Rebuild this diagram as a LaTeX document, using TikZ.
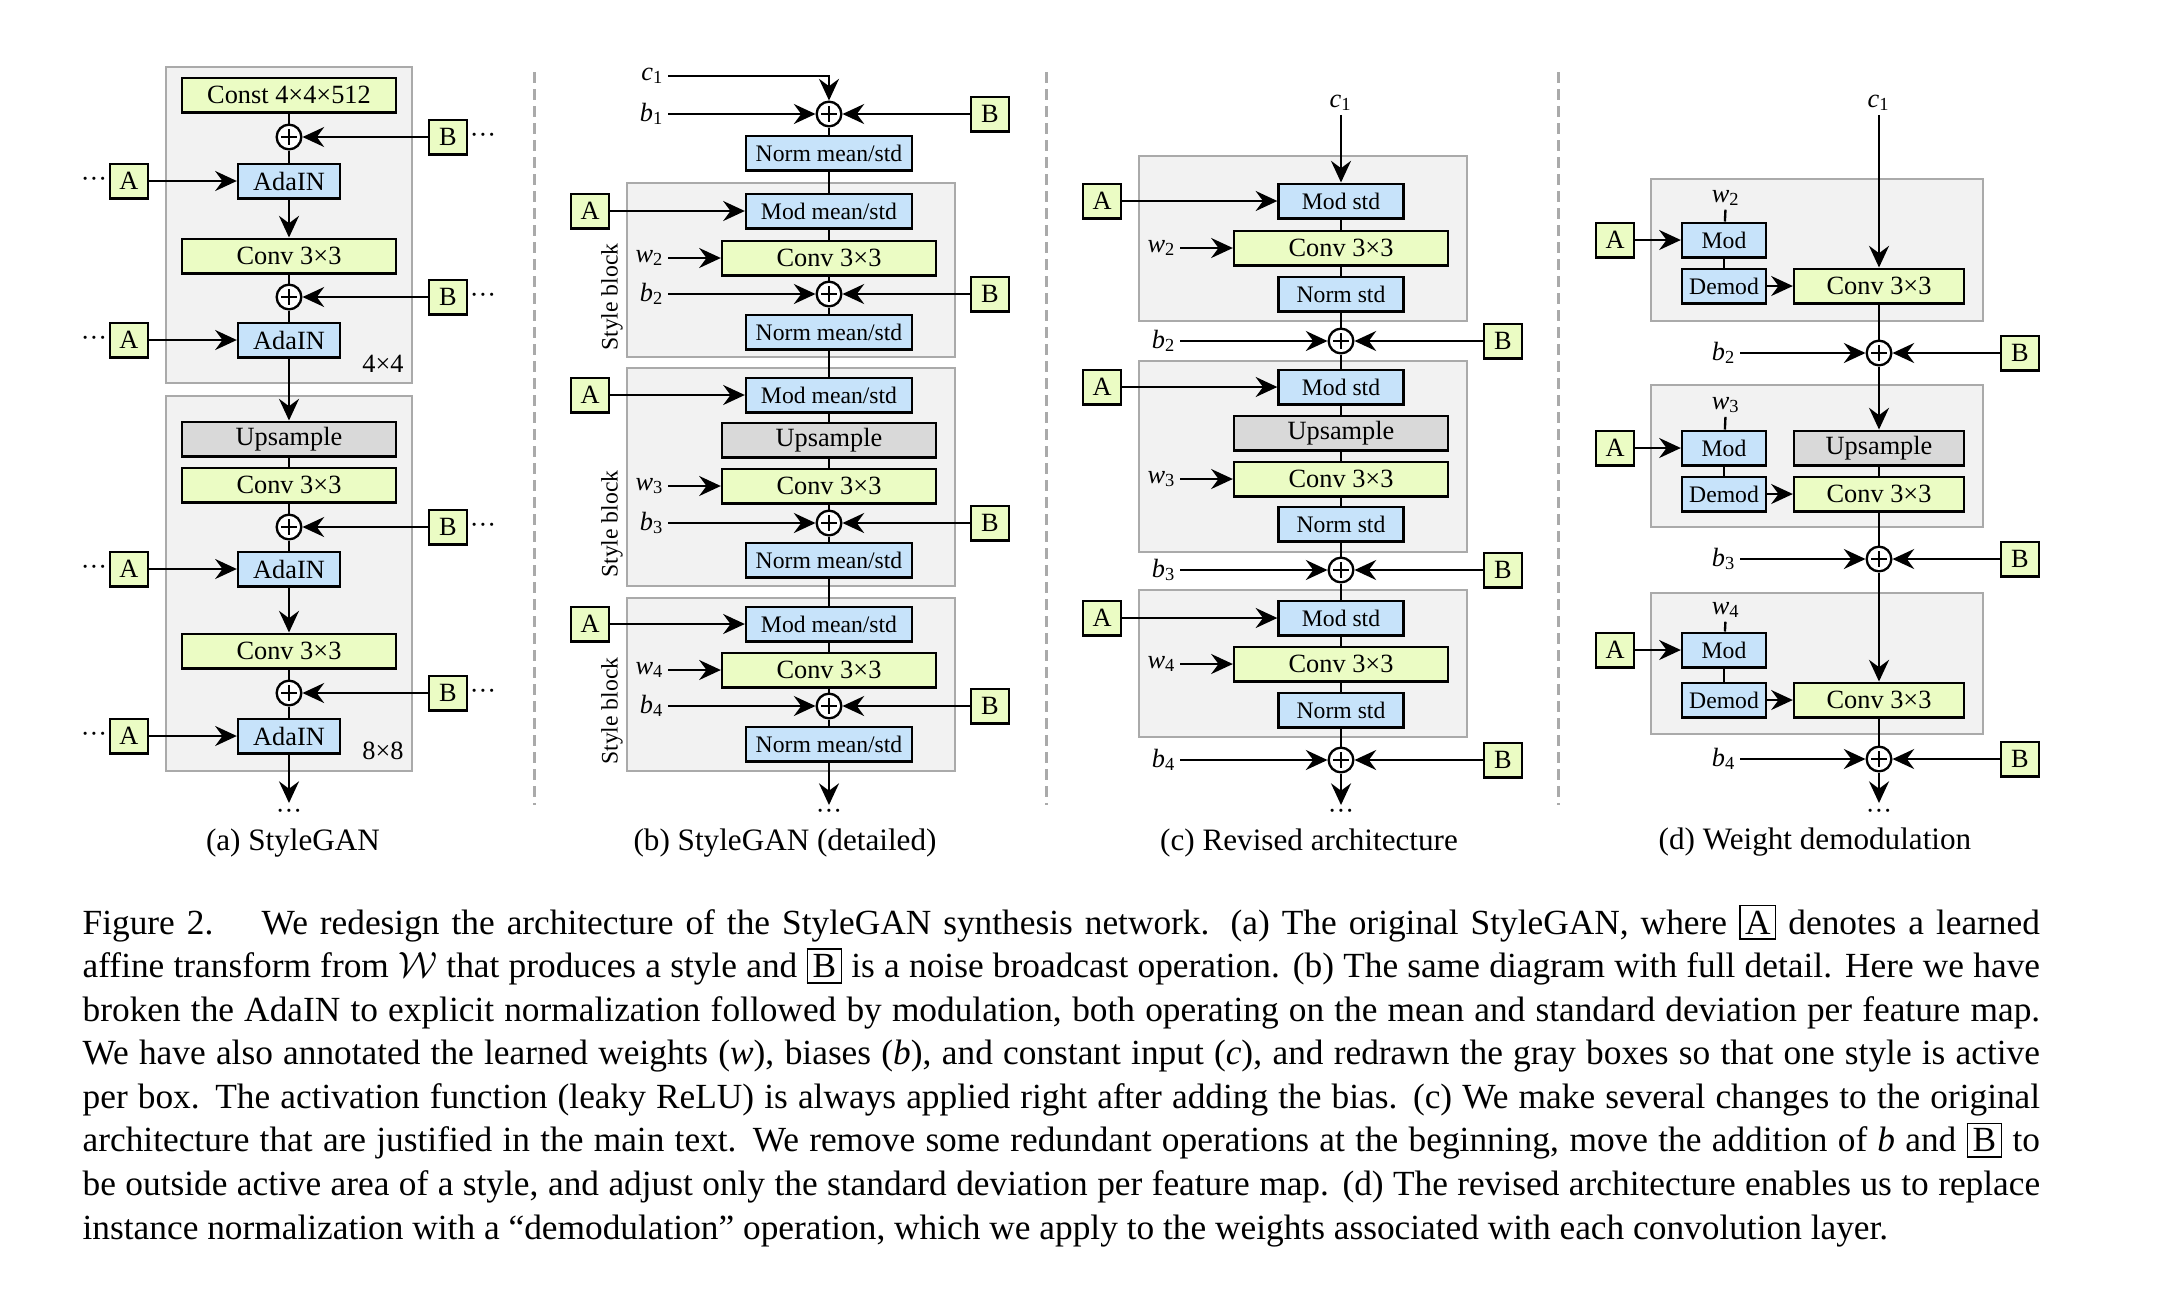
\documentclass[tikz,border=0pt]{standalone}
\usepackage{fontspec}
\setmainfont{Liberation Serif}
\usetikzlibrary{arrows.meta}

\definecolor{convgreen}{RGB}{235,252,196}
\definecolor{opblue}{RGB}{199,227,250}
\definecolor{upgray}{RGB}{217,217,217}
\definecolor{stagefill}{RGB}{242,242,242}
\definecolor{stageline}{RGB}{170,170,170}

\newcommand{\ivar}[2]{\textit{#1}\textsubscript{#2}}
\newcommand{\bigtxt}{\fontsize{7.9}{9.5}\selectfont}
\newcommand{\smalltxt}{\fontsize{7.1}{8.5}\selectfont}
\newcommand{\subcaptxt}{\fontsize{9.35}{11}\selectfont}
\newcommand{\captxt}{\fontsize{10.6}{13.07}\selectfont}
\setlength{\fboxsep}{1.3pt}
\setlength{\fboxrule}{0.5pt}

\begin{document}
\begin{tikzpicture}[
    x=0.3pt, y=-0.3pt,
    blk/.style={draw, line width=0.7pt, inner sep=0pt, minimum height=10.4pt, font=\bigtxt},
    conv/.style={blk, fill=convgreen, minimum width=#1},
    conv/.default=64.2pt,
    upsmp/.style={blk, fill=upgray, minimum width=#1},
    upsmp/.default=64.2pt,
    op/.style={blk, fill=opblue, minimum width=#1, font=\smalltxt},
    adain/.style={blk, fill=opblue, minimum width=30.6pt},
    ab/.style={blk, fill=convgreen, minimum width=11.4pt},
    addnode/.style={circle, draw, fill=white, line width=0.7pt, minimum size=7.4pt, inner sep=0pt,
        path picture={\draw[line width=0.45pt]
            ([xshift=-2.3pt]path picture bounding box.center) -- ([xshift=2.3pt]path picture bounding box.center)
            ([yshift=-2.3pt]path picture bounding box.center) -- ([yshift=2.3pt]path picture bounding box.center);}},
    stage/.style={draw=stageline, fill=stagefill, line width=0.8pt},
    divider/.style={draw=stageline, line width=0.9pt, dash pattern=on 3.3pt off 1.8pt},
    lbl/.style={inner sep=1pt, font=\bigtxt},
    ellip/.style={inner sep=0pt, font=\bigtxt, text height=2.6pt, text depth=0pt},
    sty/.style={rotate=90, inner sep=0pt, font=\smalltxt},
    subcap/.style={inner sep=0pt, font=\subcaptxt},
    capline/.style={anchor=base west, inner sep=0pt, font=\captxt},
    line/.style={line width=0.7pt},
    arr/.style={line width=0.7pt, -{Stealth[length=6.5pt, width=6pt, inset=2.2pt]}}
]
\useasboundingbox (0,0) rectangle (2164,1290);

% Panel dividers
\draw[divider] (534,72) -- (534,805);
\draw[divider] (1046,72) -- (1046,805);
\draw[divider] (1558,72) -- (1558,805);

% (a) StyleGAN
\draw[stage] (166,67) rectangle (412,383);
\draw[stage] (166,396) rectangle (412,771);

\node[conv] (aConst) at (289,95) {Const 4×4×512};
\node[addnode] (aP1) at (289,137) {};
\node[ab] (aB1) at (448,137) {B};
\node[ellip] (aBd1) at (483,139) {···};
\node[ab] (aA1) at (129,181) {A};
\node[ellip] (aAd1) at (94,183) {···};
\node[adain] (aAda1) at (289,181) {AdaIN};
\node[conv] (aConv1) at (289,256) {Conv 3×3};
\node[addnode] (aP2) at (289,297) {};
\node[ab] (aB2) at (448,297) {B};
\node[ellip] (aBd2) at (483,299) {···};
\node[ab] (aA2) at (129,340) {A};
\node[ellip] (aAd2) at (94,342) {···};
\node[adain] (aAda2) at (289,340) {AdaIN};
\node[lbl] (aRes1) at (383,364) {4×4};

\node[upsmp] (aUp) at (289,439) {Upsample};
\node[conv] (aConv2) at (289,485) {Conv 3×3};
\node[addnode] (aP3) at (289,527) {};
\node[ab] (aB3) at (448,527) {B};
\node[ellip] (aBd3) at (483,529) {···};
\node[ab] (aA3) at (129,569) {A};
\node[ellip] (aAd3) at (94,571) {···};
\node[adain] (aAda3) at (289,569) {AdaIN};
\node[conv] (aConv3) at (289,651) {Conv 3×3};
\node[addnode] (aP4) at (289,693) {};
\node[ab] (aB4) at (448,693) {B};
\node[ellip] (aBd4) at (483,695) {···};
\node[ab] (aA4) at (129,736) {A};
\node[ellip] (aAd4) at (94,738) {···};
\node[adain] (aAda4) at (289,736) {AdaIN};
\node[lbl] (aRes2) at (383,751) {8×8};
\coordinate (aEnd) at (289,803);
\node[ellip] (aDots) at (289,815) {···};
\node[subcap] (aCap) at (293,843) {(a) StyleGAN};

\draw[line] (aConst) -- (aP1);
\draw[arr] (aB1) -- (aP1);
\draw[line] (aP1) -- (aAda1);
\draw[arr] (aA1) -- (aAda1);
\draw[arr] (aAda1) -- (aConv1);
\draw[line] (aConv1) -- (aP2);
\draw[arr] (aB2) -- (aP2);
\draw[line] (aP2) -- (aAda2);
\draw[arr] (aA2) -- (aAda2);
\draw[arr] (aAda2) -- (aUp);
\draw[line] (aUp) -- (aConv2);
\draw[line] (aConv2) -- (aP3);
\draw[arr] (aB3) -- (aP3);
\draw[line] (aP3) -- (aAda3);
\draw[arr] (aA3) -- (aAda3);
\draw[arr] (aAda3) -- (aConv3);
\draw[line] (aConv3) -- (aP4);
\draw[arr] (aB4) -- (aP4);
\draw[line] (aP4) -- (aAda4);
\draw[arr] (aA4) -- (aAda4);
\draw[arr] (aAda4) -- (aEnd);

% (b) StyleGAN (detailed)
\draw[stage] (627,183) rectangle (955,357);
\draw[stage] (627,368) rectangle (955,586);
\draw[stage] (627,598) rectangle (955,771);

\node[lbl, anchor=east] (bC1) at (668,76) {\ivar{c}{1}};
\node[addnode] (bP1) at (829,114) {};
\node[lbl, anchor=east] (bBias1) at (668,114) {\ivar{b}{1}};
\node[ab] (bB1) at (990,114) {B};
\node[op=49.8pt] (bNorm1) at (829,153) {Norm mean/std};

\node[ab] (bA2) at (590,211) {A};
\node[op=49.8pt] (bMod2) at (829,211) {Mod mean/std};
\node[conv] (bConv2) at (829,258) {Conv 3×3};
\node[lbl, anchor=east] (bW2) at (668,258) {\ivar{w}{2}};
\node[addnode] (bP2) at (829,294) {};
\node[lbl, anchor=east] (bBias2) at (668,294) {\ivar{b}{2}};
\node[ab] (bB2) at (990,294) {B};
\node[op=49.8pt] (bNorm2) at (829,332) {Norm mean/std};
\node[sty] (bSty2) at (612,297) {Style block};

\node[ab] (bA3) at (590,395) {A};
\node[op=49.8pt] (bMod3) at (829,395) {Mod mean/std};
\node[upsmp] (bUp) at (829,440) {Upsample};
\node[conv] (bConv3) at (829,486) {Conv 3×3};
\node[lbl, anchor=east] (bW3) at (668,486) {\ivar{w}{3}};
\node[addnode] (bP3) at (829,523) {};
\node[lbl, anchor=east] (bBias3) at (668,523) {\ivar{b}{3}};
\node[ab] (bB3) at (990,523) {B};
\node[op=49.8pt] (bNorm3) at (829,560) {Norm mean/std};
\node[sty] (bSty3) at (612,524) {Style block};

\node[ab] (bA4) at (590,624) {A};
\node[op=49.8pt] (bMod4) at (829,624) {Mod mean/std};
\node[conv] (bConv4) at (829,670) {Conv 3×3};
\node[lbl, anchor=east] (bW4) at (668,670) {\ivar{w}{4}};
\node[addnode] (bP4) at (829,706) {};
\node[lbl, anchor=east] (bBias4) at (668,706) {\ivar{b}{4}};
\node[ab] (bB4) at (990,706) {B};
\node[op=49.8pt] (bNorm4) at (829,744) {Norm mean/std};
\node[sty] (bSty4) at (612,711) {Style block};
\coordinate (bEnd) at (829,805);
\node[ellip] (bDots) at (829,815) {···};
\node[subcap] (bCap) at (785,843) {(b) StyleGAN (detailed)};

\draw[arr] (bC1.east) -| (bP1);
\draw[arr] (bBias1) -- (bP1);
\draw[arr] (bB1) -- (bP1);
\draw[line] (bP1) -- (bNorm1);
\draw[line] (bNorm1) -- (bMod2);
\draw[arr] (bA2) -- (bMod2);
\draw[line] (bMod2) -- (bConv2);
\draw[arr] (bW2) -- (bConv2);
\draw[line] (bConv2) -- (bP2);
\draw[arr] (bBias2) -- (bP2);
\draw[arr] (bB2) -- (bP2);
\draw[line] (bP2) -- (bNorm2);
\draw[line] (bNorm2) -- (bMod3);
\draw[arr] (bA3) -- (bMod3);
\draw[line] (bMod3) -- (bUp);
\draw[line] (bUp) -- (bConv3);
\draw[arr] (bW3) -- (bConv3);
\draw[line] (bConv3) -- (bP3);
\draw[arr] (bBias3) -- (bP3);
\draw[arr] (bB3) -- (bP3);
\draw[line] (bP3) -- (bNorm3);
\draw[line] (bNorm3) -- (bMod4);
\draw[arr] (bA4) -- (bMod4);
\draw[line] (bMod4) -- (bConv4);
\draw[arr] (bW4) -- (bConv4);
\draw[line] (bConv4) -- (bP4);
\draw[arr] (bBias4) -- (bP4);
\draw[arr] (bB4) -- (bP4);
\draw[line] (bP4) -- (bNorm4);
\draw[arr] (bNorm4) -- (bEnd);

% (c) Revised architecture
\draw[stage] (1139,156) rectangle (1467,321);
\draw[stage] (1139,361) rectangle (1467,552);
\draw[stage] (1139,590) rectangle (1467,737);

\node[lbl] (cC1) at (1341,103) {\ivar{c}{1}};
\node[ab] (cA1) at (1102,201) {A};
\node[op=37.5pt] (cMod1) at (1341,201) {Mod std};
\node[conv] (cConv1) at (1341,248) {Conv 3×3};
\node[lbl, anchor=east] (cW2) at (1180,248) {\ivar{w}{2}};
\node[op=37.5pt] (cNorm1) at (1341,294) {Norm std};
\node[addnode] (cP1) at (1341,341) {};
\node[lbl, anchor=east] (cBias2) at (1180,341) {\ivar{b}{2}};
\node[ab] (cB1) at (1503,341) {B};

\node[ab] (cA2) at (1102,387) {A};
\node[op=37.5pt] (cMod2) at (1341,387) {Mod std};
\node[upsmp] (cUp) at (1341,433) {Upsample};
\node[conv] (cConv2) at (1341,479) {Conv 3×3};
\node[lbl, anchor=east] (cW3) at (1180,479) {\ivar{w}{3}};
\node[op=37.5pt] (cNorm2) at (1341,524) {Norm std};
\node[addnode] (cP2) at (1341,570) {};
\node[lbl, anchor=east] (cBias3) at (1180,570) {\ivar{b}{3}};
\node[ab] (cB2) at (1503,570) {B};

\node[ab] (cA3) at (1102,618) {A};
\node[op=37.5pt] (cMod3) at (1341,618) {Mod std};
\node[conv] (cConv3) at (1341,664) {Conv 3×3};
\node[lbl, anchor=east] (cW4) at (1180,664) {\ivar{w}{4}};
\node[op=37.5pt] (cNorm3) at (1341,710) {Norm std};
\node[addnode] (cP3) at (1341,760) {};
\node[lbl, anchor=east] (cBias4) at (1180,760) {\ivar{b}{4}};
\node[ab] (cB3) at (1503,760) {B};
\coordinate (cEnd) at (1341,805);
\node[ellip] (cDots) at (1341,815) {···};
\node[subcap] (cCap) at (1309,843) {(c) Revised architecture};

\draw[arr] (cC1) -- (cMod1);
\draw[arr] (cA1) -- (cMod1);
\draw[line] (cMod1) -- (cConv1);
\draw[arr] (cW2) -- (cConv1);
\draw[line] (cConv1) -- (cNorm1);
\draw[line] (cNorm1) -- (cP1);
\draw[arr] (cBias2) -- (cP1);
\draw[arr] (cB1) -- (cP1);
\draw[line] (cP1) -- (cMod2);
\draw[arr] (cA2) -- (cMod2);
\draw[line] (cMod2) -- (cUp);
\draw[line] (cUp) -- (cConv2);
\draw[arr] (cW3) -- (cConv2);
\draw[line] (cConv2) -- (cNorm2);
\draw[line] (cNorm2) -- (cP2);
\draw[arr] (cBias3) -- (cP2);
\draw[arr] (cB2) -- (cP2);
\draw[line] (cP2) -- (cMod3);
\draw[arr] (cA3) -- (cMod3);
\draw[line] (cMod3) -- (cConv3);
\draw[arr] (cW4) -- (cConv3);
\draw[line] (cConv3) -- (cNorm3);
\draw[line] (cNorm3) -- (cP3);
\draw[arr] (cBias4) -- (cP3);
\draw[arr] (cB3) -- (cP3);
\draw[arr] (cP3) -- (cEnd);

% (d) Weight demodulation
\draw[stage] (1651,179) rectangle (1983,321);
\draw[stage] (1651,385) rectangle (1983,527);
\draw[stage] (1651,593) rectangle (1983,734);

\node[lbl] (dC1) at (1879,103) {\ivar{c}{1}};
\node[lbl] (dW2) at (1726,198) {\ivar{w}{2}};
\node[ab] (dA1) at (1615,240) {A};
\node[op=25.2pt] (dMod1) at (1724,240) {Mod};
\node[op=25.2pt] (dDem1) at (1724,286) {Demod};
\node[conv=51pt] (dConv1) at (1879,286) {Conv 3×3};
\node[addnode] (dP1) at (1879,353) {};
\node[lbl, anchor=east] (dBias2) at (1740,353) {\ivar{b}{2}};
\node[ab] (dB1) at (2020,353) {B};

\node[lbl] (dW3) at (1726,405) {\ivar{w}{3}};
\node[ab] (dA2) at (1615,448) {A};
\node[op=25.2pt] (dMod2) at (1724,448) {Mod};
\node[upsmp=51pt] (dUp) at (1879,448) {Upsample};
\node[op=25.2pt] (dDem2) at (1724,494) {Demod};
\node[conv=51pt] (dConv2) at (1879,494) {Conv 3×3};
\node[addnode] (dP2) at (1879,559) {};
\node[lbl, anchor=east] (dBias3) at (1740,559) {\ivar{b}{3}};
\node[ab] (dB2) at (2020,559) {B};

\node[lbl] (dW4) at (1726,610) {\ivar{w}{4}};
\node[ab] (dA3) at (1615,650) {A};
\node[op=25.2pt] (dMod3) at (1724,650) {Mod};
\node[op=25.2pt] (dDem3) at (1724,700) {Demod};
\node[conv=51pt] (dConv3) at (1879,700) {Conv 3×3};
\node[addnode] (dP3) at (1879,759) {};
\node[lbl, anchor=east] (dBias4) at (1740,759) {\ivar{b}{4}};
\node[ab] (dB3) at (2020,759) {B};
\coordinate (dEnd) at (1879,803);
\node[ellip] (dDots) at (1879,815) {···};
\node[subcap] (dCap) at (1815,842) {(d) Weight demodulation};

\draw[arr] (dC1) -- (dConv1);
\draw[line] (dW2) -- (dMod1);
\draw[arr] (dA1) -- (dMod1);
\draw[line] (dMod1) -- (dDem1);
\draw[arr] (dDem1) -- (dConv1);
\draw[line] (dConv1) -- (dP1);
\draw[arr] (dBias2) -- (dP1);
\draw[arr] (dB1) -- (dP1);
\draw[arr] (dP1) -- (dUp);
\draw[line] (dW3) -- (dMod2);
\draw[arr] (dA2) -- (dMod2);
\draw[line] (dMod2) -- (dDem2);
\draw[arr] (dDem2) -- (dConv2);
\draw[line] (dUp) -- (dConv2);
\draw[line] (dConv2) -- (dP2);
\draw[arr] (dBias3) -- (dP2);
\draw[arr] (dB2) -- (dP2);
\draw[arr] (dP2) -- (dConv3);
\draw[line] (dW4) -- (dMod3);
\draw[arr] (dA3) -- (dMod3);
\draw[line] (dMod3) -- (dDem3);
\draw[arr] (dDem3) -- (dConv3);
\draw[line] (dConv3) -- (dP3);
\draw[arr] (dBias4) -- (dP3);
\draw[arr] (dB3) -- (dP3);
\draw[arr] (dP3) -- (dEnd);

% Figure caption
\node[capline] (cap1) at (82,934) {\makebox[587.2pt][s]{Figure 2.\hspace{14.5pt}We redesign the architecture of the StyleGAN synthesis network. (a) The original StyleGAN, where \fbox{A} denotes a learned}};
\node[capline] (cap2) at (82,977.6) {\makebox[587.2pt][s]{affine transform from $\mathcal{W}$ that produces a style and \fbox{B} is a noise broadcast operation. (b) The same diagram with full detail. Here we have}};
\node[capline] (cap3) at (82,1021.1) {\makebox[587.2pt][s]{broken the AdaIN to explicit normalization followed by modulation, both operating on the mean and standard deviation per feature map.}};
\node[capline] (cap4) at (82,1064.7) {\makebox[587.2pt][s]{We have also annotated the learned weights (\textit{w}), biases (\textit{b}), and constant input (\textit{c}), and redrawn the gray boxes so that one style is active}};
\node[capline] (cap5) at (82,1108.3) {\makebox[587.2pt][s]{per box. The activation function (leaky ReLU) is always applied right after adding the bias. (c) We make several changes to the original}};
\node[capline] (cap6) at (82,1151.9) {\makebox[587.2pt][s]{architecture that are justified in the main text. We remove some redundant operations at the beginning, move the addition of \textit{b} and \fbox{B} to}};
\node[capline] (cap7) at (82,1195.4) {\makebox[587.2pt][s]{be outside active area of a style, and adjust only the standard deviation per feature map. (d) The revised architecture enables us to replace}};
\node[capline] (cap8) at (82,1239) {instance normalization with a ``demodulation'' operation, which we apply to the weights associated with each convolution layer.};

\end{tikzpicture}
\end{document}
